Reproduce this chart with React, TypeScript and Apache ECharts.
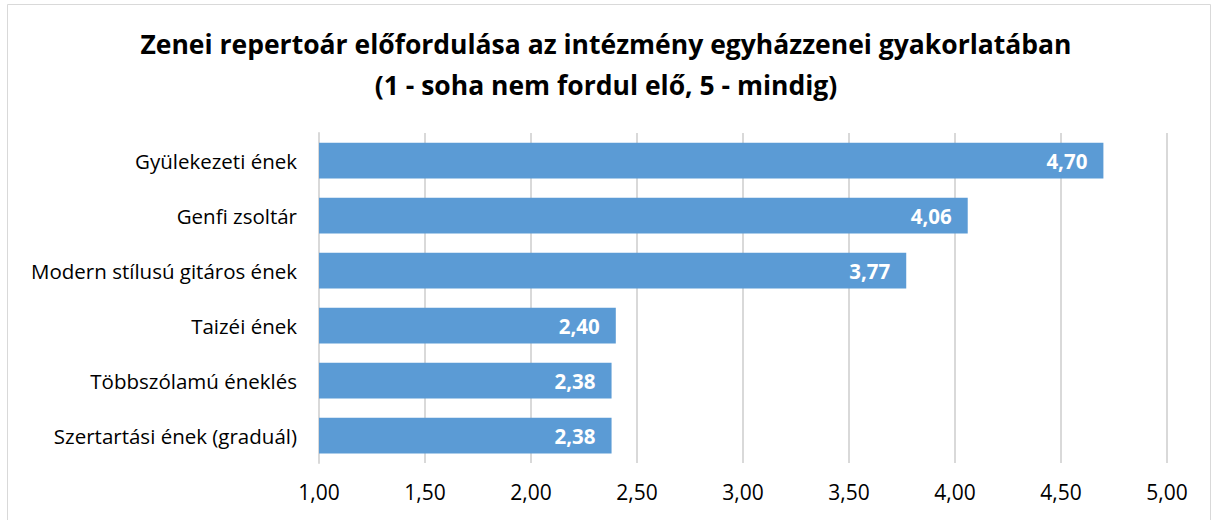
import React, { useEffect, useRef } from "react";
import * as echarts from "echarts";

const categories = [
  "Gyülekezeti ének",
  "Genfi zsoltár",
  "Modern stílusú gitáros ének",
  "Taizéi ének",
  "Többszólamú éneklés",
  "Szertartási ének (graduál)",
];
const values = [4.7, 4.06, 3.77, 2.4, 2.38, 2.38];
const titleLine1 = "Zenei repertoár előfordulása az intézmény egyházzenei gyakorlatában";
const titleLine2 = "(1 - soha nem fordul elő, 5 - mindig)";

const FONT = "'Open Sans', 'Noto Sans', sans-serif";
const fmt = (v: number) => v.toFixed(2).replace(".", ",");

export default function App() {
  const ref = useRef<HTMLDivElement>(null);
  useEffect(() => {
    const chart = echarts.init(ref.current!, null, { renderer: "svg" });
    chart.setOption({
      animation: false,
      backgroundColor: "#ffffff",
      title: {
        text: titleLine1 + "\n" + titleLine2,
        left: "center",
        top: 18,
        textStyle: {
          fontFamily: FONT,
          fontWeight: "bold",
          fontSize: 26.5,
          lineHeight: 41,
          color: "#000000",
        },
      },
      graphic: [
        {
          type: "rect",
          shape: { x: 7.5, y: 4.5, width: 1203, height: 530 },
          style: { fill: "none", stroke: "#d9d9d9", lineWidth: 1 },
          silent: true,
        },
      ],
      grid: { left: 319, right: 45, top: 133, bottom: 57 },
      xAxis: {
        type: "value",
        min: 1,
        max: 5,
        interval: 0.5,
        axisLine: { show: false },
        axisTick: { show: false },
        splitLine: { show: true, lineStyle: { color: "#d9d9d9", width: 2 } },
        axisLabel: {
          formatter: (v: number) => fmt(v),
          fontFamily: FONT,
          fontSize: 21,
          color: "#000000",
          margin: 18,
        },
      },
      yAxis: {
        type: "category",
        data: categories,
        inverse: true,
        axisLine: { show: true, lineStyle: { color: "#d9d9d9", width: 2 } },
        axisTick: { show: false },
        axisLabel: {
          fontFamily: FONT,
          fontSize: 20.5,
          color: "#000000",
          margin: 22,
        },
      },
      series: [
        {
          type: "bar",
          data: values,
          barWidth: "65%",
          itemStyle: { color: "#5b9bd5" },
          label: {
            show: true,
            position: "insideRight",
            distance: 16,
            formatter: (p: any) => fmt(p.value),
            fontFamily: FONT,
            fontWeight: "bold",
            fontSize: 20.5,
            color: "#ffffff",
          },
        },
      ],
    });
    return () => chart.dispose();
  }, []);
  return (
    <div
      ref={ref}
      style={{ position: "absolute", left: 0, top: 0, width: 1212, height: 520 }}
    />
  );
}
